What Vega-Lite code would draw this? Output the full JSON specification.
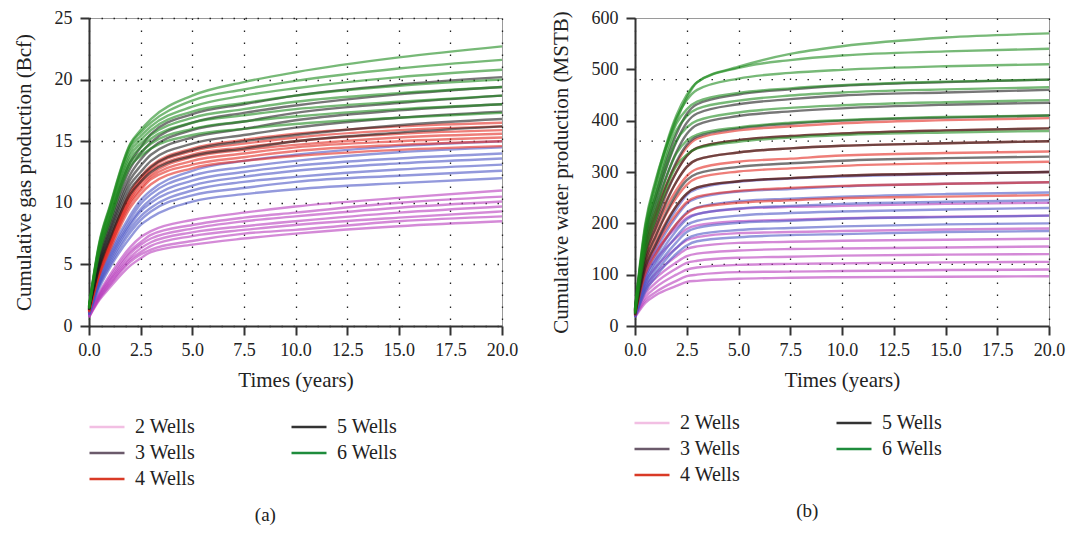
{
"$schema": "https://vega.github.io/schema/vega-lite/v6.json",
"padding": {"left": 12, "top": 8, "right": 4, "bottom": 3},
"background": "white",
"config": {
  "font": "Liberation Serif",
  "view": {"stroke": "#9a9a9a", "strokeWidth": 1},
  "axis": {"labelFont": "Liberation Serif", "labelFontSize": 18, "labelColor": "#222", "titleFont": "Liberation Serif", "titleFontSize": 21, "titleFontWeight": "normal", "titleColor": "#222", "domainColor": "#333", "domainWidth": 2, "tickColor": "#333", "tickWidth": 2, "tickSize": 9, "gridColor": "#222", "gridDash": [1.5, 10.5], "gridWidth": 1.3, "labelFlush": false, "labelOverlap": false},
  "legend": {"labelFont": "Liberation Serif", "labelFontSize": 20, "labelColor": "#222", "symbolType": "M-2,0H2", "symbolSize": 306, "symbolStrokeWidth": 2.5, "symbolOpacity": 1, "labelOffset": 18, "columnPadding": 90, "rowPadding": 6, "padding": 0},
  "title": {"font": "Liberation Serif", "fontSize": 19, "fontWeight": "normal", "color": "#222"},
  "concat": {"spacing": 30}
},
"datasets": {
"gas": [
{"w":2,"c":1,"t":0,"v":0.7},{"w":2,"c":1,"t":0.5,"v":2.1},{"w":2,"c":1,"t":1,"v":3.1},{"w":2,"c":1,"t":2,"v":4.9},{"w":2,"c":1,"t":2.5,"v":5.5},{"w":2,"c":1,"t":3,"v":6.0},{"w":2,"c":1,"t":5,"v":6.6},{"w":2,"c":1,"t":7.5,"v":7.1},{"w":2,"c":1,"t":10,"v":7.5},{"w":2,"c":1,"t":15,"v":8.1},{"w":2,"c":1,"t":20,"v":8.5},
{"w":2,"c":2,"t":0,"v":0.8},{"w":2,"c":2,"t":0.5,"v":2.2},{"w":2,"c":2,"t":1,"v":3.3},{"w":2,"c":2,"t":2,"v":5.2},{"w":2,"c":2,"t":2.5,"v":5.8},{"w":2,"c":2,"t":3,"v":6.2},{"w":2,"c":2,"t":5,"v":6.9},{"w":2,"c":2,"t":7.5,"v":7.5},{"w":2,"c":2,"t":10,"v":7.8},{"w":2,"c":2,"t":15,"v":8.5},{"w":2,"c":2,"t":20,"v":8.9},
{"w":2,"c":3,"t":0,"v":0.7},{"w":2,"c":3,"t":0.5,"v":2.3},{"w":2,"c":3,"t":1,"v":3.4},{"w":2,"c":3,"t":2,"v":5.4},{"w":2,"c":3,"t":2.5,"v":6.0},{"w":2,"c":3,"t":3,"v":6.5},{"w":2,"c":3,"t":5,"v":7.3},{"w":2,"c":3,"t":7.5,"v":7.8},{"w":2,"c":3,"t":10,"v":8.2},{"w":2,"c":3,"t":15,"v":8.8},{"w":2,"c":3,"t":20,"v":9.3},
{"w":2,"c":4,"t":0,"v":0.8},{"w":2,"c":4,"t":0.5,"v":2.4},{"w":2,"c":4,"t":1,"v":3.6},{"w":2,"c":4,"t":2,"v":5.6},{"w":2,"c":4,"t":2.5,"v":6.3},{"w":2,"c":4,"t":3,"v":6.8},{"w":2,"c":4,"t":5,"v":7.6},{"w":2,"c":4,"t":7.5,"v":8.1},{"w":2,"c":4,"t":10,"v":8.5},{"w":2,"c":4,"t":15,"v":9.2},{"w":2,"c":4,"t":20,"v":9.7},
{"w":2,"c":5,"t":0,"v":0.9},{"w":2,"c":5,"t":0.5,"v":2.5},{"w":2,"c":5,"t":1,"v":3.7},{"w":2,"c":5,"t":2,"v":5.9},{"w":2,"c":5,"t":2.5,"v":6.6},{"w":2,"c":5,"t":3,"v":7.1},{"w":2,"c":5,"t":5,"v":7.9},{"w":2,"c":5,"t":7.5,"v":8.5},{"w":2,"c":5,"t":10,"v":8.9},{"w":2,"c":5,"t":15,"v":9.6},{"w":2,"c":5,"t":20,"v":10.1},
{"w":2,"c":6,"t":0,"v":0.8},{"w":2,"c":6,"t":0.5,"v":2.6},{"w":2,"c":6,"t":1,"v":3.9},{"w":2,"c":6,"t":2,"v":6.1},{"w":2,"c":6,"t":2.5,"v":6.8},{"w":2,"c":6,"t":3,"v":7.4},{"w":2,"c":6,"t":5,"v":8.2},{"w":2,"c":6,"t":7.5,"v":8.8},{"w":2,"c":6,"t":10,"v":9.2},{"w":2,"c":6,"t":15,"v":10.0},{"w":2,"c":6,"t":20,"v":10.5},
{"w":2,"c":7,"t":0,"v":0.9},{"w":2,"c":7,"t":0.5,"v":2.7},{"w":2,"c":7,"t":1,"v":4.1},{"w":2,"c":7,"t":2,"v":6.4},{"w":2,"c":7,"t":2.5,"v":7.2},{"w":2,"c":7,"t":3,"v":7.7},{"w":2,"c":7,"t":5,"v":8.6},{"w":2,"c":7,"t":7.5,"v":9.2},{"w":2,"c":7,"t":10,"v":9.7},{"w":2,"c":7,"t":15,"v":10.4},{"w":2,"c":7,"t":20,"v":11.0},
{"w":3,"c":1,"t":0,"v":0.9},{"w":3,"c":1,"t":0.5,"v":3.1},{"w":3,"c":1,"t":1,"v":4.7},{"w":3,"c":1,"t":2,"v":7.2},{"w":3,"c":1,"t":2.5,"v":8.2},{"w":3,"c":1,"t":3,"v":8.8},{"w":3,"c":1,"t":5,"v":10.1},{"w":3,"c":1,"t":7.5,"v":10.7},{"w":3,"c":1,"t":10,"v":11.1},{"w":3,"c":1,"t":15,"v":11.6},{"w":3,"c":1,"t":20,"v":12.0},
{"w":3,"c":2,"t":0,"v":1.0},{"w":3,"c":2,"t":0.5,"v":3.3},{"w":3,"c":2,"t":1,"v":4.9},{"w":3,"c":2,"t":2,"v":7.6},{"w":3,"c":2,"t":2.5,"v":8.6},{"w":3,"c":2,"t":3,"v":9.3},{"w":3,"c":2,"t":5,"v":10.6},{"w":3,"c":2,"t":7.5,"v":11.2},{"w":3,"c":2,"t":10,"v":11.7},{"w":3,"c":2,"t":15,"v":12.2},{"w":3,"c":2,"t":20,"v":12.6},
{"w":3,"c":3,"t":0,"v":0.9},{"w":3,"c":3,"t":0.5,"v":3.4},{"w":3,"c":3,"t":1,"v":5.1},{"w":3,"c":3,"t":2,"v":7.9},{"w":3,"c":3,"t":2.5,"v":8.9},{"w":3,"c":3,"t":3,"v":9.6},{"w":3,"c":3,"t":5,"v":11.0},{"w":3,"c":3,"t":7.5,"v":11.7},{"w":3,"c":3,"t":10,"v":12.1},{"w":3,"c":3,"t":15,"v":12.7},{"w":3,"c":3,"t":20,"v":13.1},
{"w":3,"c":4,"t":0,"v":1.0},{"w":3,"c":4,"t":0.5,"v":3.5},{"w":3,"c":4,"t":1,"v":5.3},{"w":3,"c":4,"t":2,"v":8.2},{"w":3,"c":4,"t":2.5,"v":9.3},{"w":3,"c":4,"t":3,"v":10.0},{"w":3,"c":4,"t":5,"v":11.4},{"w":3,"c":4,"t":7.5,"v":12.1},{"w":3,"c":4,"t":10,"v":12.6},{"w":3,"c":4,"t":15,"v":13.2},{"w":3,"c":4,"t":20,"v":13.6},
{"w":3,"c":5,"t":0,"v":1.1},{"w":3,"c":5,"t":0.5,"v":3.6},{"w":3,"c":5,"t":1,"v":5.5},{"w":3,"c":5,"t":2,"v":8.4},{"w":3,"c":5,"t":2.5,"v":9.5},{"w":3,"c":5,"t":3,"v":10.3},{"w":3,"c":5,"t":5,"v":11.8},{"w":3,"c":5,"t":7.5,"v":12.5},{"w":3,"c":5,"t":10,"v":13.0},{"w":3,"c":5,"t":15,"v":13.6},{"w":3,"c":5,"t":20,"v":14.0},
{"w":3,"c":6,"t":0,"v":1.0},{"w":3,"c":6,"t":0.5,"v":3.8},{"w":3,"c":6,"t":1,"v":5.7},{"w":3,"c":6,"t":2,"v":8.7},{"w":3,"c":6,"t":2.5,"v":9.9},{"w":3,"c":6,"t":3,"v":10.7},{"w":3,"c":6,"t":5,"v":12.2},{"w":3,"c":6,"t":7.5,"v":12.9},{"w":3,"c":6,"t":10,"v":13.4},{"w":3,"c":6,"t":15,"v":14.1},{"w":3,"c":6,"t":20,"v":14.5},
{"w":3,"c":7,"t":0,"v":1.1},{"w":3,"c":7,"t":0.5,"v":3.9},{"w":3,"c":7,"t":1,"v":5.9},{"w":3,"c":7,"t":2,"v":9.0},{"w":3,"c":7,"t":2.5,"v":10.2},{"w":3,"c":7,"t":3,"v":11.0},{"w":3,"c":7,"t":5,"v":12.6},{"w":3,"c":7,"t":7.5,"v":13.4},{"w":3,"c":7,"t":10,"v":13.9},{"w":3,"c":7,"t":15,"v":14.6},{"w":3,"c":7,"t":20,"v":15.0},
{"w":4,"c":1,"t":0,"v":1.1},{"w":4,"c":1,"t":0.5,"v":4.1},{"w":4,"c":1,"t":1,"v":6.1},{"w":4,"c":1,"t":2,"v":9.6},{"w":4,"c":1,"t":2.5,"v":10.7},{"w":4,"c":1,"t":3,"v":11.5},{"w":4,"c":1,"t":5,"v":12.8},{"w":4,"c":1,"t":7.5,"v":13.4},{"w":4,"c":1,"t":10,"v":13.8},{"w":4,"c":1,"t":15,"v":14.3},{"w":4,"c":1,"t":20,"v":14.6},
{"w":4,"c":2,"t":0,"v":1.2},{"w":4,"c":2,"t":0.5,"v":4.2},{"w":4,"c":2,"t":1,"v":6.3},{"w":4,"c":2,"t":2,"v":9.9},{"w":4,"c":2,"t":2.5,"v":11.0},{"w":4,"c":2,"t":3,"v":11.9},{"w":4,"c":2,"t":5,"v":13.1},{"w":4,"c":2,"t":7.5,"v":13.7},{"w":4,"c":2,"t":10,"v":14.2},{"w":4,"c":2,"t":15,"v":14.7},{"w":4,"c":2,"t":20,"v":15.0},
{"w":4,"c":3,"t":0,"v":1.2},{"w":4,"c":3,"t":0.5,"v":4.3},{"w":4,"c":3,"t":1,"v":6.4},{"w":4,"c":3,"t":2,"v":10.1},{"w":4,"c":3,"t":2.5,"v":11.2},{"w":4,"c":3,"t":3,"v":12.1},{"w":4,"c":3,"t":5,"v":13.4},{"w":4,"c":3,"t":7.5,"v":14.0},{"w":4,"c":3,"t":10,"v":14.5},{"w":4,"c":3,"t":15,"v":15.0},{"w":4,"c":3,"t":20,"v":15.3},
{"w":4,"c":4,"t":0,"v":1.2},{"w":4,"c":4,"t":0.5,"v":4.4},{"w":4,"c":4,"t":1,"v":6.6},{"w":4,"c":4,"t":2,"v":10.3},{"w":4,"c":4,"t":2.5,"v":11.5},{"w":4,"c":4,"t":3,"v":12.3},{"w":4,"c":4,"t":5,"v":13.7},{"w":4,"c":4,"t":7.5,"v":14.3},{"w":4,"c":4,"t":10,"v":14.7},{"w":4,"c":4,"t":15,"v":15.3},{"w":4,"c":4,"t":20,"v":15.6},
{"w":4,"c":5,"t":0,"v":1.3},{"w":4,"c":5,"t":0.5,"v":4.5},{"w":4,"c":5,"t":1,"v":6.7},{"w":4,"c":5,"t":2,"v":10.5},{"w":4,"c":5,"t":2.5,"v":11.7},{"w":4,"c":5,"t":3,"v":12.6},{"w":4,"c":5,"t":5,"v":13.9},{"w":4,"c":5,"t":7.5,"v":14.5},{"w":4,"c":5,"t":10,"v":15.0},{"w":4,"c":5,"t":15,"v":15.6},{"w":4,"c":5,"t":20,"v":15.9},
{"w":4,"c":6,"t":0,"v":1.3},{"w":4,"c":6,"t":0.5,"v":4.5},{"w":4,"c":6,"t":1,"v":6.8},{"w":4,"c":6,"t":2,"v":10.7},{"w":4,"c":6,"t":2.5,"v":11.9},{"w":4,"c":6,"t":3,"v":12.8},{"w":4,"c":6,"t":5,"v":14.2},{"w":4,"c":6,"t":7.5,"v":14.8},{"w":4,"c":6,"t":10,"v":15.3},{"w":4,"c":6,"t":15,"v":15.9},{"w":4,"c":6,"t":20,"v":16.2},
{"w":4,"c":7,"t":0,"v":1.3},{"w":4,"c":7,"t":0.5,"v":4.6},{"w":4,"c":7,"t":1,"v":6.9},{"w":4,"c":7,"t":2,"v":10.9},{"w":4,"c":7,"t":2.5,"v":12.1},{"w":4,"c":7,"t":3,"v":13.0},{"w":4,"c":7,"t":5,"v":14.4},{"w":4,"c":7,"t":7.5,"v":15.1},{"w":4,"c":7,"t":10,"v":15.6},{"w":4,"c":7,"t":15,"v":16.2},{"w":4,"c":7,"t":20,"v":16.5},
{"w":5,"c":1,"t":0,"v":1.3},{"w":5,"c":1,"t":0.5,"v":4.7},{"w":5,"c":1,"t":1,"v":7.0},{"w":5,"c":1,"t":2,"v":10.7},{"w":5,"c":1,"t":2.5,"v":11.7},{"w":5,"c":1,"t":3,"v":12.5},{"w":5,"c":1,"t":5,"v":13.8},{"w":5,"c":1,"t":7.5,"v":14.4},{"w":5,"c":1,"t":10,"v":15.0},{"w":5,"c":1,"t":15,"v":15.7},{"w":5,"c":1,"t":20,"v":16.2},
{"w":5,"c":2,"t":0,"v":1.4},{"w":5,"c":2,"t":0.5,"v":4.9},{"w":5,"c":2,"t":1,"v":7.2},{"w":5,"c":2,"t":2,"v":11.1},{"w":5,"c":2,"t":2.5,"v":12.1},{"w":5,"c":2,"t":3,"v":12.9},{"w":5,"c":2,"t":5,"v":14.3},{"w":5,"c":2,"t":7.5,"v":15.0},{"w":5,"c":2,"t":10,"v":15.5},{"w":5,"c":2,"t":15,"v":16.3},{"w":5,"c":2,"t":20,"v":16.8},
{"w":5,"c":3,"t":0,"v":1.3},{"w":5,"c":3,"t":0.5,"v":5.0},{"w":5,"c":3,"t":1,"v":7.5},{"w":5,"c":3,"t":2,"v":11.5},{"w":5,"c":3,"t":2.5,"v":12.5},{"w":5,"c":3,"t":3,"v":13.4},{"w":5,"c":3,"t":5,"v":14.8},{"w":5,"c":3,"t":7.5,"v":15.5},{"w":5,"c":3,"t":10,"v":16.1},{"w":5,"c":3,"t":15,"v":16.9},{"w":5,"c":3,"t":20,"v":17.4},
{"w":5,"c":4,"t":0,"v":1.4},{"w":5,"c":4,"t":0.5,"v":5.2},{"w":5,"c":4,"t":1,"v":7.7},{"w":5,"c":4,"t":2,"v":11.9},{"w":5,"c":4,"t":2.5,"v":13.0},{"w":5,"c":4,"t":3,"v":13.9},{"w":5,"c":4,"t":5,"v":15.3},{"w":5,"c":4,"t":7.5,"v":16.0},{"w":5,"c":4,"t":10,"v":16.7},{"w":5,"c":4,"t":15,"v":17.5},{"w":5,"c":4,"t":20,"v":18.0},
{"w":5,"c":5,"t":0,"v":1.5},{"w":5,"c":5,"t":0.5,"v":5.4},{"w":5,"c":5,"t":1,"v":8.0},{"w":5,"c":5,"t":2,"v":12.3},{"w":5,"c":5,"t":2.5,"v":13.5},{"w":5,"c":5,"t":3,"v":14.4},{"w":5,"c":5,"t":5,"v":15.9},{"w":5,"c":5,"t":7.5,"v":16.6},{"w":5,"c":5,"t":10,"v":17.3},{"w":5,"c":5,"t":15,"v":18.1},{"w":5,"c":5,"t":20,"v":18.7},
{"w":5,"c":6,"t":0,"v":1.4},{"w":5,"c":6,"t":0.5,"v":5.6},{"w":5,"c":6,"t":1,"v":8.3},{"w":5,"c":6,"t":2,"v":12.8},{"w":5,"c":6,"t":2.5,"v":14.0},{"w":5,"c":6,"t":3,"v":14.9},{"w":5,"c":6,"t":5,"v":16.5},{"w":5,"c":6,"t":7.5,"v":17.3},{"w":5,"c":6,"t":10,"v":17.9},{"w":5,"c":6,"t":15,"v":18.8},{"w":5,"c":6,"t":20,"v":19.4},
{"w":5,"c":7,"t":0,"v":1.5},{"w":5,"c":7,"t":0.5,"v":5.9},{"w":5,"c":7,"t":1,"v":8.7},{"w":5,"c":7,"t":2,"v":13.3},{"w":5,"c":7,"t":2.5,"v":14.5},{"w":5,"c":7,"t":3,"v":15.6},{"w":5,"c":7,"t":5,"v":17.2},{"w":5,"c":7,"t":7.5,"v":18.0},{"w":5,"c":7,"t":10,"v":18.7},{"w":5,"c":7,"t":15,"v":19.6},{"w":5,"c":7,"t":20,"v":20.2},
{"w":6,"c":1,"t":0,"v":1.4},{"w":6,"c":1,"t":0.5,"v":5.9},{"w":6,"c":1,"t":1,"v":8.4},{"w":6,"c":1,"t":2,"v":13.0},{"w":6,"c":1,"t":2.5,"v":13.8},{"w":6,"c":1,"t":3,"v":14.4},{"w":6,"c":1,"t":5,"v":15.5},{"w":6,"c":1,"t":7.5,"v":16.0},{"w":6,"c":1,"t":10,"v":16.4},{"w":6,"c":1,"t":15,"v":16.9},{"w":6,"c":1,"t":20,"v":17.3},
{"w":6,"c":2,"t":0,"v":1.5},{"w":6,"c":2,"t":0.5,"v":6.1},{"w":6,"c":2,"t":1,"v":8.7},{"w":6,"c":2,"t":2,"v":13.3},{"w":6,"c":2,"t":2.5,"v":14.1},{"w":6,"c":2,"t":3,"v":14.8},{"w":6,"c":2,"t":5,"v":16.0},{"w":6,"c":2,"t":7.5,"v":16.6},{"w":6,"c":2,"t":10,"v":17.0},{"w":6,"c":2,"t":15,"v":17.6},{"w":6,"c":2,"t":20,"v":18.0},
{"w":6,"c":3,"t":0,"v":1.4},{"w":6,"c":3,"t":0.5,"v":6.2},{"w":6,"c":3,"t":1,"v":8.9},{"w":6,"c":3,"t":2,"v":13.6},{"w":6,"c":3,"t":2.5,"v":14.5},{"w":6,"c":3,"t":3,"v":15.2},{"w":6,"c":3,"t":5,"v":16.5},{"w":6,"c":3,"t":7.5,"v":17.1},{"w":6,"c":3,"t":10,"v":17.6},{"w":6,"c":3,"t":15,"v":18.2},{"w":6,"c":3,"t":20,"v":18.7},
{"w":6,"c":4,"t":0,"v":1.5},{"w":6,"c":4,"t":0.5,"v":6.4},{"w":6,"c":4,"t":1,"v":9.1},{"w":6,"c":4,"t":2,"v":13.9},{"w":6,"c":4,"t":2.5,"v":14.8},{"w":6,"c":4,"t":3,"v":15.5},{"w":6,"c":4,"t":5,"v":16.9},{"w":6,"c":4,"t":7.5,"v":17.6},{"w":6,"c":4,"t":10,"v":18.2},{"w":6,"c":4,"t":15,"v":18.9},{"w":6,"c":4,"t":20,"v":19.4},
{"w":6,"c":5,"t":0,"v":1.5},{"w":6,"c":5,"t":0.5,"v":6.5},{"w":6,"c":5,"t":1,"v":9.3},{"w":6,"c":5,"t":2,"v":14.2},{"w":6,"c":5,"t":2.5,"v":15.1},{"w":6,"c":5,"t":3,"v":15.9},{"w":6,"c":5,"t":5,"v":17.4},{"w":6,"c":5,"t":7.5,"v":18.1},{"w":6,"c":5,"t":10,"v":18.7},{"w":6,"c":5,"t":15,"v":19.5},{"w":6,"c":5,"t":20,"v":20.0},
{"w":6,"c":6,"t":0,"v":1.6},{"w":6,"c":6,"t":0.5,"v":6.6},{"w":6,"c":6,"t":1,"v":9.5},{"w":6,"c":6,"t":2,"v":14.5},{"w":6,"c":6,"t":2.5,"v":15.4},{"w":6,"c":6,"t":3,"v":16.2},{"w":6,"c":6,"t":5,"v":17.8},{"w":6,"c":6,"t":7.5,"v":18.7},{"w":6,"c":6,"t":10,"v":19.3},{"w":6,"c":6,"t":15,"v":20.2},{"w":6,"c":6,"t":20,"v":20.8},
{"w":6,"c":7,"t":0,"v":1.5},{"w":6,"c":7,"t":0.5,"v":6.7},{"w":6,"c":7,"t":1,"v":9.6},{"w":6,"c":7,"t":2,"v":14.7},{"w":6,"c":7,"t":2.5,"v":15.7},{"w":6,"c":7,"t":3,"v":16.5},{"w":6,"c":7,"t":5,"v":18.3},{"w":6,"c":7,"t":7.5,"v":19.2},{"w":6,"c":7,"t":10,"v":19.9},{"w":6,"c":7,"t":15,"v":20.9},{"w":6,"c":7,"t":20,"v":21.6},
{"w":6,"c":8,"t":0,"v":1.6},{"w":6,"c":8,"t":0.5,"v":6.8},{"w":6,"c":8,"t":1,"v":9.7},{"w":6,"c":8,"t":2,"v":14.8},{"w":6,"c":8,"t":2.5,"v":15.9},{"w":6,"c":8,"t":3,"v":16.8},{"w":6,"c":8,"t":5,"v":18.7},{"w":6,"c":8,"t":7.5,"v":19.8},{"w":6,"c":8,"t":10,"v":20.6},{"w":6,"c":8,"t":15,"v":21.8},{"w":6,"c":8,"t":20,"v":22.7}
],
"water": [
{"w":2,"c":1,"t":0,"v":17},{"w":2,"c":1,"t":0.5,"v":45},{"w":2,"c":1,"t":1,"v":60},{"w":2,"c":1,"t":2,"v":78},{"w":2,"c":1,"t":2.5,"v":86},{"w":2,"c":1,"t":3,"v":88},{"w":2,"c":1,"t":5,"v":92},{"w":2,"c":1,"t":7.5,"v":94},{"w":2,"c":1,"t":10,"v":95},{"w":2,"c":1,"t":15,"v":96},{"w":2,"c":1,"t":20,"v":97},
{"w":2,"c":2,"t":0,"v":18},{"w":2,"c":2,"t":0.5,"v":50},{"w":2,"c":2,"t":1,"v":66},{"w":2,"c":2,"t":2,"v":88},{"w":2,"c":2,"t":2.5,"v":97},{"w":2,"c":2,"t":3,"v":100},{"w":2,"c":2,"t":5,"v":105},{"w":2,"c":2,"t":7.5,"v":106},{"w":2,"c":2,"t":10,"v":107},{"w":2,"c":2,"t":15,"v":109},{"w":2,"c":2,"t":20,"v":110},
{"w":2,"c":3,"t":0,"v":19},{"w":2,"c":3,"t":0.5,"v":56},{"w":2,"c":3,"t":1,"v":75},{"w":2,"c":3,"t":2,"v":100},{"w":2,"c":3,"t":2.5,"v":110},{"w":2,"c":3,"t":3,"v":114},{"w":2,"c":3,"t":5,"v":119},{"w":2,"c":3,"t":7.5,"v":121},{"w":2,"c":3,"t":10,"v":122},{"w":2,"c":3,"t":15,"v":124},{"w":2,"c":3,"t":20,"v":125},
{"w":2,"c":4,"t":0,"v":21},{"w":2,"c":4,"t":0.5,"v":63},{"w":2,"c":4,"t":1,"v":84},{"w":2,"c":4,"t":2,"v":112},{"w":2,"c":4,"t":2.5,"v":123},{"w":2,"c":4,"t":3,"v":127},{"w":2,"c":4,"t":5,"v":133},{"w":2,"c":4,"t":7.5,"v":135},{"w":2,"c":4,"t":10,"v":137},{"w":2,"c":4,"t":15,"v":139},{"w":2,"c":4,"t":20,"v":140},
{"w":2,"c":5,"t":0,"v":22},{"w":2,"c":5,"t":0.5,"v":70},{"w":2,"c":5,"t":1,"v":93},{"w":2,"c":5,"t":2,"v":124},{"w":2,"c":5,"t":2.5,"v":136},{"w":2,"c":5,"t":3,"v":141},{"w":2,"c":5,"t":5,"v":147},{"w":2,"c":5,"t":7.5,"v":150},{"w":2,"c":5,"t":10,"v":151},{"w":2,"c":5,"t":15,"v":153},{"w":2,"c":5,"t":20,"v":155},
{"w":2,"c":6,"t":0,"v":24},{"w":2,"c":6,"t":0.5,"v":77},{"w":2,"c":6,"t":1,"v":102},{"w":2,"c":6,"t":2,"v":136},{"w":2,"c":6,"t":2.5,"v":150},{"w":2,"c":6,"t":3,"v":155},{"w":2,"c":6,"t":5,"v":162},{"w":2,"c":6,"t":7.5,"v":164},{"w":2,"c":6,"t":10,"v":166},{"w":2,"c":6,"t":15,"v":168},{"w":2,"c":6,"t":20,"v":170},
{"w":2,"c":7,"t":0,"v":26},{"w":2,"c":7,"t":0.5,"v":86},{"w":2,"c":7,"t":1,"v":114},{"w":2,"c":7,"t":2,"v":152},{"w":2,"c":7,"t":2.5,"v":167},{"w":2,"c":7,"t":3,"v":173},{"w":2,"c":7,"t":5,"v":181},{"w":2,"c":7,"t":7.5,"v":183},{"w":2,"c":7,"t":10,"v":185},{"w":2,"c":7,"t":15,"v":188},{"w":2,"c":7,"t":20,"v":190},
{"w":2,"c":8,"t":0,"v":28},{"w":2,"c":8,"t":0.5,"v":97},{"w":2,"c":8,"t":1,"v":129},{"w":2,"c":8,"t":2,"v":172},{"w":2,"c":8,"t":2.5,"v":189},{"w":2,"c":8,"t":3,"v":196},{"w":2,"c":8,"t":5,"v":204},{"w":2,"c":8,"t":7.5,"v":207},{"w":2,"c":8,"t":10,"v":210},{"w":2,"c":8,"t":15,"v":213},{"w":2,"c":8,"t":20,"v":215},
{"w":2,"c":9,"t":0,"v":30},{"w":2,"c":9,"t":0.5,"v":108},{"w":2,"c":9,"t":1,"v":144},{"w":2,"c":9,"t":2,"v":192},{"w":2,"c":9,"t":2.5,"v":211},{"w":2,"c":9,"t":3,"v":218},{"w":2,"c":9,"t":5,"v":228},{"w":2,"c":9,"t":7.5,"v":232},{"w":2,"c":9,"t":10,"v":234},{"w":2,"c":9,"t":15,"v":238},{"w":2,"c":9,"t":20,"v":240},
{"w":3,"c":1,"t":0,"v":17},{"w":3,"c":1,"t":0.5,"v":67},{"w":3,"c":1,"t":1,"v":96},{"w":3,"c":1,"t":2,"v":141},{"w":3,"c":1,"t":2.5,"v":157},{"w":3,"c":1,"t":3,"v":165},{"w":3,"c":1,"t":5,"v":173},{"w":3,"c":1,"t":7.5,"v":177},{"w":3,"c":1,"t":10,"v":179},{"w":3,"c":1,"t":15,"v":183},{"w":3,"c":1,"t":20,"v":185},
{"w":3,"c":2,"t":0,"v":18},{"w":3,"c":2,"t":0.5,"v":72},{"w":3,"c":2,"t":1,"v":104},{"w":3,"c":2,"t":2,"v":152},{"w":3,"c":2,"t":2.5,"v":170},{"w":3,"c":2,"t":3,"v":178},{"w":3,"c":2,"t":5,"v":187},{"w":3,"c":2,"t":7.5,"v":191},{"w":3,"c":2,"t":10,"v":194},{"w":3,"c":2,"t":15,"v":198},{"w":3,"c":2,"t":20,"v":200},
{"w":3,"c":3,"t":0,"v":19},{"w":3,"c":3,"t":0.5,"v":77},{"w":3,"c":3,"t":1,"v":112},{"w":3,"c":3,"t":2,"v":163},{"w":3,"c":3,"t":2.5,"v":183},{"w":3,"c":3,"t":3,"v":191},{"w":3,"c":3,"t":5,"v":201},{"w":3,"c":3,"t":7.5,"v":205},{"w":3,"c":3,"t":10,"v":209},{"w":3,"c":3,"t":15,"v":212},{"w":3,"c":3,"t":20,"v":215},
{"w":3,"c":4,"t":0,"v":21},{"w":3,"c":4,"t":0.5,"v":83},{"w":3,"c":4,"t":1,"v":120},{"w":3,"c":4,"t":2,"v":175},{"w":3,"c":4,"t":2.5,"v":196},{"w":3,"c":4,"t":3,"v":205},{"w":3,"c":4,"t":5,"v":215},{"w":3,"c":4,"t":7.5,"v":220},{"w":3,"c":4,"t":10,"v":223},{"w":3,"c":4,"t":15,"v":227},{"w":3,"c":4,"t":20,"v":230},
{"w":3,"c":5,"t":0,"v":22},{"w":3,"c":5,"t":0.5,"v":88},{"w":3,"c":5,"t":1,"v":127},{"w":3,"c":5,"t":2,"v":186},{"w":3,"c":5,"t":2.5,"v":208},{"w":3,"c":5,"t":3,"v":218},{"w":3,"c":5,"t":5,"v":229},{"w":3,"c":5,"t":7.5,"v":234},{"w":3,"c":5,"t":10,"v":238},{"w":3,"c":5,"t":15,"v":242},{"w":3,"c":5,"t":20,"v":245},
{"w":3,"c":6,"t":0,"v":23},{"w":3,"c":6,"t":0.5,"v":94},{"w":3,"c":6,"t":1,"v":135},{"w":3,"c":6,"t":2,"v":198},{"w":3,"c":6,"t":2.5,"v":221},{"w":3,"c":6,"t":3,"v":231},{"w":3,"c":6,"t":5,"v":243},{"w":3,"c":6,"t":7.5,"v":248},{"w":3,"c":6,"t":10,"v":252},{"w":3,"c":6,"t":15,"v":257},{"w":3,"c":6,"t":20,"v":260},
{"w":3,"c":7,"t":0,"v":25},{"w":3,"c":7,"t":0.5,"v":101},{"w":3,"c":7,"t":1,"v":146},{"w":3,"c":7,"t":2,"v":213},{"w":3,"c":7,"t":2.5,"v":238},{"w":3,"c":7,"t":3,"v":249},{"w":3,"c":7,"t":5,"v":262},{"w":3,"c":7,"t":7.5,"v":267},{"w":3,"c":7,"t":10,"v":272},{"w":3,"c":7,"t":15,"v":277},{"w":3,"c":7,"t":20,"v":280},
{"w":3,"c":8,"t":0,"v":27},{"w":3,"c":8,"t":0.5,"v":108},{"w":3,"c":8,"t":1,"v":156},{"w":3,"c":8,"t":2,"v":228},{"w":3,"c":8,"t":2.5,"v":255},{"w":3,"c":8,"t":3,"v":267},{"w":3,"c":8,"t":5,"v":281},{"w":3,"c":8,"t":7.5,"v":287},{"w":3,"c":8,"t":10,"v":291},{"w":3,"c":8,"t":15,"v":296},{"w":3,"c":8,"t":20,"v":300},
{"w":4,"c":1,"t":0,"v":20},{"w":4,"c":1,"t":0.5,"v":102},{"w":4,"c":1,"t":1,"v":140},{"w":4,"c":1,"t":2,"v":199},{"w":4,"c":1,"t":2.5,"v":219},{"w":4,"c":1,"t":3,"v":230},{"w":4,"c":1,"t":5,"v":240},{"w":4,"c":1,"t":7.5,"v":245},{"w":4,"c":1,"t":10,"v":249},{"w":4,"c":1,"t":15,"v":252},{"w":4,"c":1,"t":20,"v":255},
{"w":4,"c":2,"t":0,"v":22},{"w":4,"c":2,"t":0.5,"v":112},{"w":4,"c":2,"t":1,"v":154},{"w":4,"c":2,"t":2,"v":218},{"w":4,"c":2,"t":2.5,"v":241},{"w":4,"c":2,"t":3,"v":252},{"w":4,"c":2,"t":5,"v":263},{"w":4,"c":2,"t":7.5,"v":269},{"w":4,"c":2,"t":10,"v":273},{"w":4,"c":2,"t":15,"v":277},{"w":4,"c":2,"t":20,"v":280},
{"w":4,"c":3,"t":0,"v":24},{"w":4,"c":3,"t":0.5,"v":120},{"w":4,"c":3,"t":1,"v":165},{"w":4,"c":3,"t":2,"v":234},{"w":4,"c":3,"t":2.5,"v":258},{"w":4,"c":3,"t":3,"v":270},{"w":4,"c":3,"t":5,"v":282},{"w":4,"c":3,"t":7.5,"v":288},{"w":4,"c":3,"t":10,"v":293},{"w":4,"c":3,"t":15,"v":297},{"w":4,"c":3,"t":20,"v":300},
{"w":4,"c":4,"t":0,"v":26},{"w":4,"c":4,"t":0.5,"v":128},{"w":4,"c":4,"t":1,"v":176},{"w":4,"c":4,"t":2,"v":250},{"w":4,"c":4,"t":2.5,"v":275},{"w":4,"c":4,"t":3,"v":288},{"w":4,"c":4,"t":5,"v":301},{"w":4,"c":4,"t":7.5,"v":307},{"w":4,"c":4,"t":10,"v":312},{"w":4,"c":4,"t":15,"v":317},{"w":4,"c":4,"t":20,"v":320},
{"w":4,"c":5,"t":0,"v":27},{"w":4,"c":5,"t":0.5,"v":136},{"w":4,"c":5,"t":1,"v":187},{"w":4,"c":5,"t":2,"v":265},{"w":4,"c":5,"t":2.5,"v":292},{"w":4,"c":5,"t":3,"v":306},{"w":4,"c":5,"t":5,"v":320},{"w":4,"c":5,"t":7.5,"v":326},{"w":4,"c":5,"t":10,"v":332},{"w":4,"c":5,"t":15,"v":337},{"w":4,"c":5,"t":20,"v":340},
{"w":4,"c":6,"t":0,"v":29},{"w":4,"c":6,"t":0.5,"v":144},{"w":4,"c":6,"t":1,"v":198},{"w":4,"c":6,"t":2,"v":281},{"w":4,"c":6,"t":2.5,"v":310},{"w":4,"c":6,"t":3,"v":324},{"w":4,"c":6,"t":5,"v":338},{"w":4,"c":6,"t":7.5,"v":346},{"w":4,"c":6,"t":10,"v":351},{"w":4,"c":6,"t":15,"v":356},{"w":4,"c":6,"t":20,"v":360},
{"w":4,"c":7,"t":0,"v":31},{"w":4,"c":7,"t":0.5,"v":154},{"w":4,"c":7,"t":1,"v":212},{"w":4,"c":7,"t":2,"v":300},{"w":4,"c":7,"t":2.5,"v":331},{"w":4,"c":7,"t":3,"v":347},{"w":4,"c":7,"t":5,"v":362},{"w":4,"c":7,"t":7.5,"v":370},{"w":4,"c":7,"t":10,"v":375},{"w":4,"c":7,"t":15,"v":381},{"w":4,"c":7,"t":20,"v":385},
{"w":4,"c":8,"t":0,"v":32},{"w":4,"c":8,"t":0.5,"v":162},{"w":4,"c":8,"t":1,"v":223},{"w":4,"c":8,"t":2,"v":316},{"w":4,"c":8,"t":2.5,"v":348},{"w":4,"c":8,"t":3,"v":365},{"w":4,"c":8,"t":5,"v":381},{"w":4,"c":8,"t":7.5,"v":389},{"w":4,"c":8,"t":10,"v":395},{"w":4,"c":8,"t":15,"v":401},{"w":4,"c":8,"t":20,"v":405},
{"w":5,"c":1,"t":0,"v":21},{"w":5,"c":1,"t":0.5,"v":114},{"w":5,"c":1,"t":1,"v":159},{"w":5,"c":1,"t":2,"v":234},{"w":5,"c":1,"t":2.5,"v":258},{"w":5,"c":1,"t":3,"v":270},{"w":5,"c":1,"t":5,"v":282},{"w":5,"c":1,"t":7.5,"v":288},{"w":5,"c":1,"t":10,"v":293},{"w":5,"c":1,"t":15,"v":297},{"w":5,"c":1,"t":20,"v":300},
{"w":5,"c":2,"t":0,"v":23},{"w":5,"c":2,"t":0.5,"v":125},{"w":5,"c":2,"t":1,"v":175},{"w":5,"c":2,"t":2,"v":257},{"w":5,"c":2,"t":2.5,"v":284},{"w":5,"c":2,"t":3,"v":297},{"w":5,"c":2,"t":5,"v":310},{"w":5,"c":2,"t":7.5,"v":317},{"w":5,"c":2,"t":10,"v":322},{"w":5,"c":2,"t":15,"v":327},{"w":5,"c":2,"t":20,"v":330},
{"w":5,"c":3,"t":0,"v":25},{"w":5,"c":3,"t":0.5,"v":137},{"w":5,"c":3,"t":1,"v":191},{"w":5,"c":3,"t":2,"v":281},{"w":5,"c":3,"t":2.5,"v":310},{"w":5,"c":3,"t":3,"v":324},{"w":5,"c":3,"t":5,"v":338},{"w":5,"c":3,"t":7.5,"v":346},{"w":5,"c":3,"t":10,"v":351},{"w":5,"c":3,"t":15,"v":356},{"w":5,"c":3,"t":20,"v":360},
{"w":5,"c":4,"t":0,"v":27},{"w":5,"c":4,"t":0.5,"v":146},{"w":5,"c":4,"t":1,"v":204},{"w":5,"c":4,"t":2,"v":300},{"w":5,"c":4,"t":2.5,"v":331},{"w":5,"c":4,"t":3,"v":347},{"w":5,"c":4,"t":5,"v":362},{"w":5,"c":4,"t":7.5,"v":370},{"w":5,"c":4,"t":10,"v":375},{"w":5,"c":4,"t":15,"v":381},{"w":5,"c":4,"t":20,"v":385},
{"w":5,"c":5,"t":0,"v":29},{"w":5,"c":5,"t":0.5,"v":156},{"w":5,"c":5,"t":1,"v":217},{"w":5,"c":5,"t":2,"v":320},{"w":5,"c":5,"t":2.5,"v":353},{"w":5,"c":5,"t":3,"v":369},{"w":5,"c":5,"t":5,"v":385},{"w":5,"c":5,"t":7.5,"v":394},{"w":5,"c":5,"t":10,"v":400},{"w":5,"c":5,"t":15,"v":406},{"w":5,"c":5,"t":20,"v":410},
{"w":5,"c":6,"t":0,"v":30},{"w":5,"c":6,"t":0.5,"v":165},{"w":5,"c":6,"t":1,"v":231},{"w":5,"c":6,"t":2,"v":339},{"w":5,"c":6,"t":2.5,"v":374},{"w":5,"c":6,"t":3,"v":392},{"w":5,"c":6,"t":5,"v":409},{"w":5,"c":6,"t":7.5,"v":418},{"w":5,"c":6,"t":10,"v":424},{"w":5,"c":6,"t":15,"v":431},{"w":5,"c":6,"t":20,"v":435},
{"w":5,"c":7,"t":0,"v":32},{"w":5,"c":7,"t":0.5,"v":175},{"w":5,"c":7,"t":1,"v":244},{"w":5,"c":7,"t":2,"v":359},{"w":5,"c":7,"t":2.5,"v":396},{"w":5,"c":7,"t":3,"v":414},{"w":5,"c":7,"t":5,"v":432},{"w":5,"c":7,"t":7.5,"v":442},{"w":5,"c":7,"t":10,"v":449},{"w":5,"c":7,"t":15,"v":455},{"w":5,"c":7,"t":20,"v":460},
{"w":5,"c":8,"t":0,"v":34},{"w":5,"c":8,"t":0.5,"v":182},{"w":5,"c":8,"t":1,"v":254},{"w":5,"c":8,"t":2,"v":374},{"w":5,"c":8,"t":2.5,"v":413},{"w":5,"c":8,"t":3,"v":432},{"w":5,"c":8,"t":5,"v":451},{"w":5,"c":8,"t":7.5,"v":461},{"w":5,"c":8,"t":10,"v":468},{"w":5,"c":8,"t":15,"v":475},{"w":5,"c":8,"t":20,"v":480},
{"w":6,"c":1,"t":0,"v":23},{"w":6,"c":1,"t":0.5,"v":144},{"w":6,"c":1,"t":1,"v":209},{"w":6,"c":1,"t":2,"v":312},{"w":6,"c":1,"t":2.5,"v":334},{"w":6,"c":1,"t":3,"v":346},{"w":6,"c":1,"t":5,"v":359},{"w":6,"c":1,"t":7.5,"v":367},{"w":6,"c":1,"t":10,"v":372},{"w":6,"c":1,"t":15,"v":377},{"w":6,"c":1,"t":20,"v":380},
{"w":6,"c":2,"t":0,"v":25},{"w":6,"c":2,"t":0.5,"v":156},{"w":6,"c":2,"t":1,"v":226},{"w":6,"c":2,"t":2,"v":336},{"w":6,"c":2,"t":2.5,"v":361},{"w":6,"c":2,"t":3,"v":373},{"w":6,"c":2,"t":5,"v":387},{"w":6,"c":2,"t":7.5,"v":396},{"w":6,"c":2,"t":10,"v":401},{"w":6,"c":2,"t":15,"v":407},{"w":6,"c":2,"t":20,"v":410},
{"w":6,"c":3,"t":0,"v":26},{"w":6,"c":3,"t":0.5,"v":167},{"w":6,"c":3,"t":1,"v":242},{"w":6,"c":3,"t":2,"v":361},{"w":6,"c":3,"t":2.5,"v":387},{"w":6,"c":3,"t":3,"v":400},{"w":6,"c":3,"t":5,"v":416},{"w":6,"c":3,"t":7.5,"v":425},{"w":6,"c":3,"t":10,"v":430},{"w":6,"c":3,"t":15,"v":436},{"w":6,"c":3,"t":20,"v":440},
{"w":6,"c":4,"t":0,"v":28},{"w":6,"c":4,"t":0.5,"v":177},{"w":6,"c":4,"t":1,"v":256},{"w":6,"c":4,"t":2,"v":381},{"w":6,"c":4,"t":2.5,"v":409},{"w":6,"c":4,"t":3,"v":423},{"w":6,"c":4,"t":5,"v":439},{"w":6,"c":4,"t":7.5,"v":449},{"w":6,"c":4,"t":10,"v":455},{"w":6,"c":4,"t":15,"v":461},{"w":6,"c":4,"t":20,"v":465},
{"w":6,"c":5,"t":0,"v":29},{"w":6,"c":5,"t":0.5,"v":182},{"w":6,"c":5,"t":1,"v":264},{"w":6,"c":5,"t":2,"v":394},{"w":6,"c":5,"t":2.5,"v":422},{"w":6,"c":5,"t":3,"v":437},{"w":6,"c":5,"t":5,"v":454},{"w":6,"c":5,"t":7.5,"v":463},{"w":6,"c":5,"t":10,"v":469},{"w":6,"c":5,"t":15,"v":476},{"w":6,"c":5,"t":20,"v":480},
{"w":6,"c":6,"t":0,"v":31},{"w":6,"c":6,"t":0.5,"v":190},{"w":6,"c":6,"t":1,"v":275},{"w":6,"c":6,"t":2,"v":405},{"w":6,"c":6,"t":2.5,"v":440},{"w":6,"c":6,"t":3,"v":460},{"w":6,"c":6,"t":5,"v":482},{"w":6,"c":6,"t":7.5,"v":493},{"w":6,"c":6,"t":10,"v":499},{"w":6,"c":6,"t":15,"v":506},{"w":6,"c":6,"t":20,"v":510},
{"w":6,"c":7,"t":0,"v":32},{"w":6,"c":7,"t":0.5,"v":195},{"w":6,"c":7,"t":1,"v":280},{"w":6,"c":7,"t":2,"v":410},{"w":6,"c":7,"t":2.5,"v":450},{"w":6,"c":7,"t":3,"v":475},{"w":6,"c":7,"t":5,"v":503},{"w":6,"c":7,"t":7.5,"v":518},{"w":6,"c":7,"t":10,"v":527},{"w":6,"c":7,"t":15,"v":535},{"w":6,"c":7,"t":20,"v":540},
{"w":6,"c":8,"t":0,"v":34},{"w":6,"c":8,"t":0.5,"v":200},{"w":6,"c":8,"t":1,"v":285},{"w":6,"c":8,"t":2,"v":400},{"w":6,"c":8,"t":2.5,"v":445},{"w":6,"c":8,"t":3,"v":475},{"w":6,"c":8,"t":5,"v":505},{"w":6,"c":8,"t":7.5,"v":530},{"w":6,"c":8,"t":10,"v":545},{"w":6,"c":8,"t":15,"v":562},{"w":6,"c":8,"t":20,"v":570}
],
"waterGrid": [{"g":120},{"g":240},{"g":360},{"g":480}]
},
"hconcat": [
{
  "width": 413, "height": 308,
  "title": {"text": "(a)", "orient": "bottom", "anchor": "middle", "frame": "bounds", "offset": 17},
  "data": {"name": "gas"},
  "encoding": {
    "x": {"field": "t", "type": "quantitative", "scale": {"domain": [0, 20], "nice": false}, "axis": {"title": "Times (years)", "values": [0, 2.5, 5, 7.5, 10, 12.5, 15, 17.5, 20], "format": ".1f", "grid": true, "labelPadding": 6, "titlePadding": 10}},
    "y": {"field": "v", "type": "quantitative", "scale": {"domain": [0, 25], "nice": false}, "axis": {"title": "Cumulative gas production (Bcf)", "values": [0, 5, 10, 15, 20, 25], "grid": true, "labelPadding": 8, "titlePadding": 20}}
  },
  "layer": [
    {"mark": {"type": "line", "interpolate": "monotone", "strokeWidth": 2.4, "opacity": 0.6},
     "encoding": {
       "stroke": {"field": "w", "type": "nominal", "scale": {"range": ["#b83cbc", "#4b55c4", "#e3281f", "#1c1c1c", "#1d8a1d"]}, "legend": null},
       "detail": [{"field": "w"}, {"field": "c"}]
     }},
    {"transform": [{"filter": "datum.t < 0"}],
     "mark": {"type": "line", "strokeWidth": 2.5},
     "encoding": {
       "color": {"field": "w", "type": "nominal", "scale": {"domain": [2, 3, 4, 5, 6], "range": ["#f2bfe3", "#6b5a6b", "#d93a26", "#333333", "#1e8c3c"]},
         "legend": {"title": null, "orient": "none", "legendX": 8, "legendY": 399, "columns": 2, "labelExpr": "datum.label + ' Wells'"}}
     }}
  ]
},
{
  "width": 414, "height": 308,
  "title": {"text": "(b)", "orient": "bottom", "anchor": "middle", "frame": "bounds", "offset": 17},
  "layer": [
    {"data": {"name": "waterGrid"},
     "mark": {"type": "rule", "strokeDash": [1.5, 10.5], "strokeWidth": 1.3, "color": "#222"},
     "encoding": {"y": {"field": "g", "type": "quantitative"}}},
    {"data": {"name": "water"},
     "mark": {"type": "line", "interpolate": "monotone", "strokeWidth": 2.4, "opacity": 0.6},
     "encoding": {
       "x": {"field": "t", "type": "quantitative", "scale": {"domain": [0, 20], "nice": false}, "axis": {"title": "Times (years)", "values": [0, 2.5, 5, 7.5, 10, 12.5, 15, 17.5, 20], "format": ".1f", "grid": true, "labelPadding": 6, "titlePadding": 10}},
       "y": {"field": "v", "type": "quantitative", "scale": {"domain": [0, 600], "nice": false}, "axis": {"title": "Cumulative water production (MSTB)", "values": [0, 100, 200, 300, 400, 500, 600], "grid": false, "labelPadding": 8, "titlePadding": 20}},
       "stroke": {"field": "w", "type": "nominal", "scale": {"range": ["#b83cbc", "#4b55c4", "#e3281f", "#1c1c1c", "#1d8a1d"]}, "legend": null},
       "detail": [{"field": "w"}, {"field": "c"}]
     }},
    {"data": {"name": "water"},
     "transform": [{"filter": "datum.t < 0"}],
     "mark": {"type": "line", "strokeWidth": 2.5},
     "encoding": {
       "x": {"field": "t", "type": "quantitative"},
       "y": {"field": "v", "type": "quantitative"},
       "color": {"field": "w", "type": "nominal", "scale": {"domain": [2, 3, 4, 5, 6], "range": ["#f2bfe3", "#6b5a6b", "#d93a26", "#333333", "#1e8c3c"]},
         "legend": {"title": null, "orient": "none", "legendX": 7, "legendY": 395, "columns": 2, "labelExpr": "datum.label + ' Wells'"}}
     }}
  ]
}
],
"resolve": {"scale": {"x": "independent", "y": "independent", "color": "independent", "stroke": "independent"}, "legend": {"color": "independent"}}
}
